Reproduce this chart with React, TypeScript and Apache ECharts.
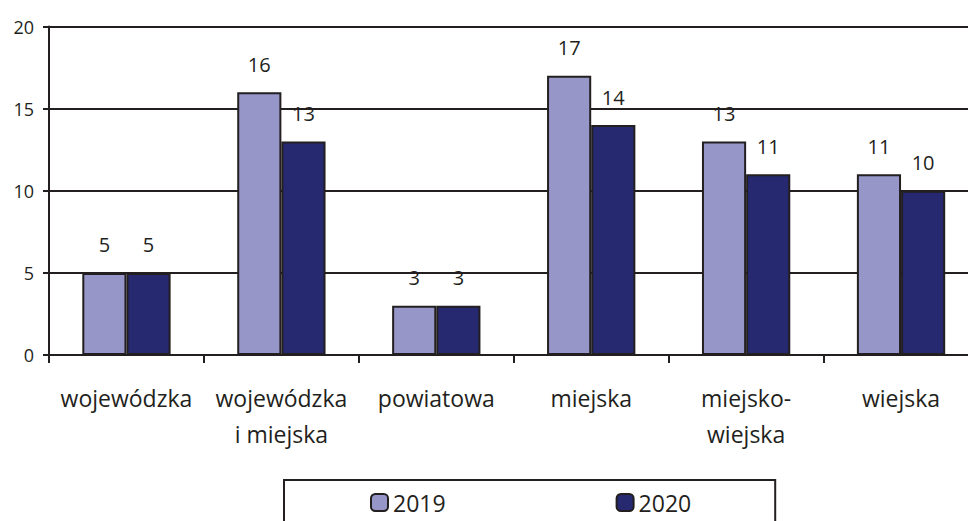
import React, { useEffect, useRef } from "react";
import * as echarts from "echarts";

const categories = [
  "wojewódzka",
  "wojewódzka\ni miejska",
  "powiatowa",
  "miejska",
  "miejsko-\nwiejska",
  "wiejska",
];
const series2019 = [5, 16, 3, 17, 13, 11];
const series2020 = [5, 13, 3, 14, 11, 10];
const yTicks = { min: 0, max: 20, interval: 5 };

const INK = "#231f20";
const FONT = "'Open Sans', sans-serif";

export default function App() {
  const ref = useRef<HTMLDivElement>(null);
  useEffect(() => {
    document.body.style.margin = "0";
    if (!ref.current) return;
    const chart = echarts.init(ref.current, undefined, { renderer: "svg" });
    const label = {
      show: true,
      position: "top" as const,
      distance: 18,
      color: INK,
      fontSize: 20,
      fontFamily: FONT,
    };
    chart.setOption({
      animation: false,
      textStyle: { fontFamily: FONT, color: INK },
      grid: { left: 49, top: 26.5, bottom: 166, right: 1.5, containLabel: false },
      legend: {
        left: 284,
        top: 480,
        itemWidth: 17,
        itemHeight: 17,
        itemGap: 170,
        padding: [11, 84, 40, 86],
        borderColor: INK,
        borderWidth: 2,
        textStyle: { fontSize: 23, color: INK, fontFamily: FONT },
        data: ["2019", "2020"],
      },
      xAxis: {
        type: "category",
        data: categories,
        axisLine: { lineStyle: { color: INK, width: 2 } },
        axisTick: { show: true, length: 8, lineStyle: { color: INK, width: 2 } },
        axisLabel: {
          margin: 25,
          fontSize: 23,
          lineHeight: 36,
          color: INK,
          fontFamily: FONT,
          interval: 0,
        },
      },
      yAxis: {
        type: "value",
        min: yTicks.min,
        max: yTicks.max,
        interval: yTicks.interval,
        axisLine: { show: true, lineStyle: { color: INK, width: 2 } },
        axisTick: { show: true, length: 6, lineStyle: { color: INK, width: 2 } },
        splitLine: { show: true, lineStyle: { color: INK, width: 2 } },
        axisLabel: { margin: 15, fontSize: 18, color: INK, fontFamily: FONT },
      },
      series: [
        {
          name: "2019",
          type: "bar",
          data: series2019,
          barGap: "0%",
          barCategoryGap: "43%",
          itemStyle: { color: "#9696c8", borderColor: INK, borderWidth: 2 },
          label,
        },
        {
          name: "2020",
          type: "bar",
          data: series2020,
          barGap: "0%",
          barCategoryGap: "43%",
          itemStyle: { color: "#262870", borderColor: INK, borderWidth: 2 },
          label,
        },
      ],
    });
    return () => chart.dispose();
  }, []);
  return (
    <div style={{ width: 968, height: 521, overflow: "hidden" }}>
      <div ref={ref} style={{ width: 980, height: 521 }} />
    </div>
  );
}
